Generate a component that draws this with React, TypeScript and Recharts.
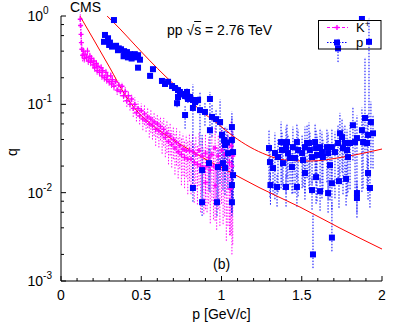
import React from "react";
import { ComposedChart, Scatter, Line, XAxis, YAxis, ErrorBar } from "recharts";

// [p, q, relative error down, relative error up (when different)]
type Pt = [number, number, number, number?];

const kaonPoints: Pt[] = [
  [0.12, 0.92, 0.2], [0.122, 0.78, 0.25], [0.125, 0.62, 0.25], [0.127, 0.5, 0.2],
  [0.13, 0.42, 0.2], [0.135, 0.36, 0.15], [0.14, 0.4, 0.1], [0.145, 0.33, 0.1],
  [0.15, 0.37, 0.1], [0.16, 0.34, 0.1], [0.165, 0.4, 0.1], [0.17, 0.31, 0.1],
  [0.18, 0.35, 0.1], [0.185, 0.3, 0.1], [0.19, 0.33, 0.1], [0.2, 0.28, 0.1],
  [0.205, 0.31, 0.1], [0.21, 0.26, 0.1], [0.22, 0.29, 0.1], [0.225, 0.24, 0.1],
  [0.23, 0.27, 0.1], [0.24, 0.23, 0.1], [0.25, 0.26, 0.1], [0.255, 0.21, 0.1],
  [0.26, 0.24, 0.1], [0.27, 0.2, 0.1], [0.28, 0.23, 0.1], [0.285, 0.19, 0.1],
  [0.29, 0.21, 0.1], [0.3, 0.18, 0.1], [0.31, 0.21, 0.1], [0.315, 0.17, 0.1],
  [0.32, 0.19, 0.1], [0.33, 0.16, 0.1], [0.34, 0.18, 0.12], [0.35, 0.145, 0.12],
  [0.36, 0.165, 0.12], [0.37, 0.14, 0.12], [0.38, 0.16, 0.12], [0.39, 0.125, 0.15],
  [0.4, 0.14, 0.15], [0.41, 0.11, 0.15], [0.42, 0.125, 0.15], [0.43, 0.1, 0.15],
  [0.44, 0.115, 0.15], [0.45, 0.09, 0.2], [0.46, 0.1, 0.2], [0.47, 0.08, 0.2],
  [0.48, 0.09, 0.2], [0.49, 0.074, 0.2], [0.5, 0.085, 0.2], [0.51, 0.068, 0.25],
  [0.52, 0.078, 0.25], [0.53, 0.065, 0.25], [0.54, 0.072, 0.25], [0.55, 0.06, 0.3],
  [0.56, 0.068, 0.3], [0.57, 0.057, 0.3], [0.58, 0.063, 0.3], [0.59, 0.052, 0.35],
  [0.6, 0.06, 0.3], [0.61, 0.05, 0.35], [0.62, 0.056, 0.3], [0.63, 0.046, 0.4],
  [0.64, 0.052, 0.35], [0.65, 0.042, 0.4], [0.66, 0.047, 0.4], [0.67, 0.038, 0.45],
  [0.68, 0.044, 0.4], [0.69, 0.035, 0.45], [0.7, 0.04, 0.4], [0.71, 0.032, 0.5],
  [0.72, 0.037, 0.45], [0.73, 0.029, 0.5], [0.74, 0.034, 0.45], [0.75, 0.027, 0.55],
  [0.76, 0.031, 0.5], [0.77, 0.025, 0.55], [0.78, 0.03, 0.5], [0.79, 0.024, 0.6],
  [0.8, 0.03, 0.55], [0.81, 0.024, 0.6], [0.82, 0.029, 0.6], [0.83, 0.022, 0.65],
  [0.84, 0.027, 0.6], [0.85, 0.021, 0.65], [0.86, 0.03, 0.6], [0.87, 0.02, 0.7],
  [0.88, 0.026, 0.6], [0.89, 0.019, 0.7], [0.9, 0.028, 0.65], [0.9, 0.013, 0.5],
  [0.91, 0.02, 0.7], [0.92, 0.025, 0.7], [0.93, 0.018, 0.75], [0.94, 0.027, 0.7],
  [0.95, 0.02, 0.75], [0.96, 0.032, 0.75], [0.96, 0.012, 0.6], [0.97, 0.019, 0.8],
  [0.98, 0.026, 0.75], [0.99, 0.021, 0.8], [1.0, 0.03, 0.75], [1.01, 0.022, 0.8],
  [1.02, 0.027, 0.8], [1.03, 0.019, 0.85], [1.04, 0.028, 0.85], [1.05, 0.022, 0.85],
  [1.055, 0.011, 0.7], [1.06, 0.034, 0.9], [1.065, 0.02, 0.9], [1.07, 0.026, 0.9],
];

const protonPoints: Pt[] = [
  [0.33, 0.9, 0.05], [0.274, 0.61, 0.05], [0.293, 0.56, 0.05], [0.268, 0.51, 0.05],
  [0.305, 0.5, 0.05], [0.3, 0.47, 0.05], [0.318, 0.45, 0.05], [0.343, 0.46, 0.05],
  [0.355, 0.41, 0.05], [0.36, 0.43, 0.05], [0.374, 0.42, 0.05], [0.393, 0.4, 0.05],
  [0.39, 0.35, 0.05], [0.4, 0.37, 0.05], [0.411, 0.39, 0.05], [0.43, 0.37, 0.05],
  [0.417, 0.34, 0.05], [0.44, 0.33, 0.05], [0.449, 0.36, 0.05], [0.46, 0.37, 0.05],
  [0.467, 0.34, 0.05], [0.48, 0.36, 0.05], [0.492, 0.32, 0.05], [0.48, 0.26, 0.05],
  [0.573, 0.25, 0.05], [0.555, 0.21, 0.05], [0.629, 0.184, 0.05], [0.648, 0.17, 0.05],
  [0.667, 0.18, 0.05], [0.692, 0.161, 0.05], [0.71, 0.153, 0.05], [0.729, 0.145, 0.1],
  [0.741, 0.138, 0.1], [0.754, 0.131, 0.1], [0.773, 0.124, 0.1], [0.785, 0.138, 0.1],
  [0.804, 0.121, 0.1], [0.822, 0.112, 0.1], [0.835, 0.106, 0.1], [0.773, 0.0757, 0.3],
  [0.723, 0.103, 0.1], [0.729, 0.121, 0.1], [0.791, 0.115, 0.1],
  [0.822, 0.091, 0.85], [0.854, 0.112, 0.1], [0.866, 0.086, 0.6], [0.897, 0.082, 0.3],
  [0.928, 0.115, 0.2], [0.941, 0.072, 0.4], [0.966, 0.068, 0.3], [0.991, 0.063, 0.8],
  [0.928, 0.051, 0.8], [1.003, 0.045, 0.5], [1.016, 0.0395, 0.4], [1.034, 0.037, 0.5],
  [1.065, 0.0553, 0.5], [1.022, 0.0346, 0.6], [1.072, 0.0288, 0.7],
  [1.065, 0.0395, 0.85], [1.04, 0.028, 0.6], [1.009, 0.0216, 0.5], [0.879, 0.018, 0.6, 1.5],
  [0.922, 0.0216, 0.5], [0.978, 0.0195, 0.6], [1.022, 0.019, 0.5], [1.072, 0.0158, 0.5],
  [1.065, 0.0122, 0.5], [0.822, 0.0113, 0.3, 2], [0.879, 0.0078, 0.3, 1.5], [0.972, 0.0078, 0.3, 1.5],
  [1.065, 0.0078, 0.3, 2],
  [1.296, 0.032, 0.6], [1.302, 0.0222, 0.6], [1.305, 0.0122, 0.4], [1.321, 0.019, 0.5],
  [1.333, 0.0281, 0.7], [1.346, 0.0116, 0.4], [1.352, 0.0253, 0.6], [1.371, 0.0374, 0.7],
  [1.377, 0.0304, 0.6], [1.383, 0.0216, 0.5], [1.402, 0.0328, 0.7], [1.402, 0.0116, 0.4],
  [1.408, 0.0374, 0.6], [1.414, 0.0281, 0.6], [1.427, 0.0247, 0.5], [1.439, 0.0195, 0.5],
  [1.445, 0.0328, 0.7], [1.458, 0.0247, 0.6], [1.47, 0.0374, 0.6], [1.47, 0.0116, 0.4],
  [1.477, 0.0304, 0.7], [1.502, 0.0281, 0.6], [1.508, 0.0234, 0.5], [1.52, 0.0328, 0.7],
  [1.52, 0.0167, 0.5], [1.533, 0.0365, 0.6], [1.545, 0.0365, 0.7], [1.551, 0.0304, 0.6],
  [1.564, 0.0253, 0.5], [1.564, 0.0107, 0.4], [1.57, 0.002, 0.3, 1.9], [1.583, 0.0374, 0.6],
  [1.589, 0.032, 0.6], [1.589, 0.015, 0.5], [1.595, 0.0267, 0.7], [1.614, 0.0328, 0.6],
  [1.614, 0.0104, 0.4], [1.626, 0.0288, 0.7], [1.632, 0.0253, 0.6], [1.657, 0.0328, 0.6],
  [1.664, 0.0281, 0.7], [1.664, 0.0099, 0.4], [1.676, 0.0205, 0.6], [1.688, 0.0328, 0.6],
  [1.688, 0.0128, 0.5], [1.688, 0.0031, 0.3, 1.5], [1.707, 0.0288, 0.7], [1.726, 0.0365, 0.6],
  [1.726, 0.43, 0.3], [1.732, 0.0135, 0.5], [1.738, 0.047, 0.7], [1.751, 0.0426, 0.6],
  [1.757, 0.032, 0.7], [1.769, 0.0365, 0.6], [1.776, 0.0143, 0.5], [1.782, 0.0304, 0.7],
  [1.788, 0.0253, 0.6], [1.801, 0.0365, 0.7], [1.819, 0.058, 0.6], [1.832, 0.0374, 0.7],
  [1.844, 0.0415, 0.8], [1.844, 0.0099, 0.4], [1.844, 0.0087, 0.4], [1.875, 0.051, 0.8],
  [1.875, 0.95, 0.05], [1.882, 0.0374, 0.7], [1.894, 0.07, 0.6, 3.8], [1.907, 0.0365, 0.7],
  [1.913, 0.045, 0.7], [1.913, 0.0167, 0.5], [1.919, 0.51, 0.86], [1.925, 0.0113, 0.4],
  [1.931, 0.063, 0.7], [1.944, 0.047, 0.6],
];

// fit curves
const kaonFit: [number, number][] = [
  [0.118, 1.0], [0.212, 0.508], [0.305, 0.258], [0.399, 0.128], [0.474, 0.084],
  [0.536, 0.0648], [0.617, 0.0499], [0.71, 0.0384], [0.804, 0.0303], [0.91, 0.0234],
  [1.053, 0.0171], [1.24, 0.0113], [1.489, 0.00687], [1.738, 0.00397], [2.0, 0.0023],
];
const protonFit: [number, number][] = [
  [0.287, 1.0], [0.368, 0.713], [0.461, 0.469], [0.555, 0.31], [0.648, 0.21],
  [0.754, 0.138], [0.866, 0.0861], [0.972, 0.0613], [1.072, 0.0437], [1.178, 0.0328],
  [1.283, 0.0267], [1.396, 0.0234], [1.551, 0.0228], [1.757, 0.0253], [2.0, 0.0312],
];

const xMajor = [0, 0.5, 1, 1.5, 2];
const xLabels = ["0", "0.5", "1", "1.5", "2"];
const xMinor = [0.1, 0.2, 0.3, 0.4, 0.6, 0.7, 0.8, 0.9, 1.1, 1.2, 1.3, 1.4, 1.6, 1.7, 1.8, 1.9];
const yMajor = [0.001, 0.01, 0.1, 1];
const yExp = ["-3", "-2", "-1", "0"];
const yMinor = [0.002, 0.004, 0.006, 0.008, 0.02, 0.04, 0.06, 0.08, 0.2, 0.4, 0.6, 0.8];

const FONT = '"Liberation Sans", Arial, Helvetica, sans-serif';
const MAGENTA = "#ff00ff";
const BLUE = "#0000ff";
const RED = "#ff0000";

const toRows = (pts: Pt[]) =>
  pts.map(([p, q, r, rUp]) => ({ p, q, err: [q * r, q * (rUp ?? r)] }));
const toLine = (pts: [number, number][]) => pts.map(([p, q]) => ({ p, q }));

const kaonRows = toRows(kaonPoints);
const protonRows = toRows(protonPoints);
const xTicks = [...xMajor, ...xMinor];
const yTicks = [...yMajor, ...yMinor];

function BottomTick({ x, y, payload }: any) {
  const i = xMajor.indexOf(payload.value);
  return (
    <g>
      <line x1={x} x2={x} y1={y} y2={y - (i >= 0 ? 5 : 3)} stroke="#000" />
      {i >= 0 && (
        <text x={x} y={y + 19} textAnchor="middle" fontFamily={FONT} fontSize={14} fill="#000">
          {xLabels[i]}
        </text>
      )}
    </g>
  );
}

function TopTick({ x, y, payload }: any) {
  const major = xMajor.includes(payload.value);
  return <line x1={x} x2={x} y1={y} y2={y + (major ? 5 : 3)} stroke="#000" />;
}

function LeftTick({ x, y, payload }: any) {
  const i = yMajor.indexOf(payload.value);
  return (
    <g>
      <line x1={x} x2={x + (i >= 0 ? 5 : 3)} y1={y} y2={y} stroke="#000" />
      {i >= 0 && (
        <text x={x - 33.5} y={y + 5} fontFamily={FONT} fontSize={14} fill="#000">
          10<tspan dy={-7} fontSize={10}>{yExp[i]}</tspan>
        </text>
      )}
    </g>
  );
}

function RightTick({ x, y, payload }: any) {
  const major = yMajor.includes(payload.value);
  return <line x1={x} x2={x - (major ? 5 : 3)} y1={y} y2={y} stroke="#000" />;
}

const plusShape = (props: any) => {
  const { cx, cy } = props;
  return (
    <path
      d={`M${cx - 2.5},${cy}H${cx + 2.5}M${cx},${cy - 2.5}V${cy + 2.5}`}
      stroke={MAGENTA}
      strokeWidth={1.4}
      fill="none"
    />
  );
};

const squareShape = (props: any) => (
  <rect x={props.cx - 3} y={props.cy - 3} width={6} height={6} fill={BLUE} />
);

export default function App() {
  return (
    <div style={{ position: "absolute", left: 0, top: 0, width: 407, height: 326, background: "#fff" }}>
      <ComposedChart width={407} height={326} margin={{ top: 16, right: 25, bottom: 0, left: 0 }}>
        <XAxis
          xAxisId="b"
          dataKey="p"
          type="number"
          domain={[0, 2]}
          allowDataOverflow
          ticks={xTicks}
          interval={0}
          tickSize={0}
          tickMargin={0}
          tickLine={false}
          tick={(p: any) => <BottomTick {...p} />}
          height={45}
          axisLine={{ stroke: "#000" }}
        />
        <XAxis
          xAxisId="t"
          orientation="top"
          type="number"
          domain={[0, 2]}
          allowDataOverflow
          ticks={xTicks}
          interval={0}
          tickSize={0}
          tickMargin={0}
          tickLine={false}
          tick={(p: any) => <TopTick {...p} />}
          height={0}
          axisLine={{ stroke: "#000" }}
        />
        <YAxis
          yAxisId="l"
          dataKey="q"
          type="number"
          scale="log"
          domain={[0.001, 1]}
          allowDataOverflow
          ticks={yTicks}
          interval={0}
          tickSize={0}
          tickMargin={0}
          tickLine={false}
          tick={(p: any) => <LeftTick {...p} />}
          width={61}
          axisLine={{ stroke: "#000" }}
        />
        <YAxis
          yAxisId="r"
          orientation="right"
          type="number"
          scale="log"
          domain={[0.001, 1]}
          allowDataOverflow
          ticks={yTicks}
          interval={0}
          tickSize={0}
          tickMargin={0}
          tickLine={false}
          tick={(p: any) => <RightTick {...p} />}
          width={0}
          axisLine={{ stroke: "#000" }}
        />
        <Scatter
          data={kaonRows}
          dataKey="q"
          xAxisId="b"
          yAxisId="l"
          shape={plusShape}
          isAnimationActive={false}
        >
          <ErrorBar dataKey="err" direction="y" width={0} stroke={MAGENTA} strokeWidth={1} strokeDasharray="1.5 1.5" />
        </Scatter>
        <Scatter
          data={protonRows}
          dataKey="q"
          xAxisId="b"
          yAxisId="l"
          shape={squareShape}
          isAnimationActive={false}
        >
          <ErrorBar dataKey="err" direction="y" width={0} stroke={BLUE} strokeWidth={1} strokeDasharray="1.5 1.5" />
        </Scatter>
        <Line
          data={toLine(kaonFit)}
          dataKey="q"
          xAxisId="b"
          yAxisId="l"
          type="monotone"
          stroke={RED}
          strokeWidth={1}
          dot={false}
          isAnimationActive={false}
        />
        <Line
          data={toLine(protonFit)}
          dataKey="q"
          xAxisId="b"
          yAxisId="l"
          type="monotone"
          stroke={RED}
          strokeWidth={1}
          dot={false}
          isAnimationActive={false}
        />
      </ComposedChart>

      <svg width={407} height={326} style={{ position: "absolute", left: 0, top: 0, pointerEvents: "none" }}>
        <g fontFamily={FONT} fontSize={14} fill="#000">
          <text x={70} y={12}>CMS</text>
          <text x={213} y={269}>(b)</text>
          <text x={221.5} y={319} textAnchor="middle">p [GeV/c]</text>
          <text transform="translate(17,152) rotate(-90)" textAnchor="middle">q</text>
        </g>
        <g fontFamily={FONT} fontSize={13} fill="#000">
          <text x={356} y={32}>
            K<tspan dy={-5} fontSize={9}>+</tspan>
          </text>
          <text x={356} y={47}>p</text>
        </g>
        <rect x={318.5} y={20.5} width={62.5} height={28.5} fill="none" stroke="#000" />
        <line x1={327} x2={348} y1={27.5} y2={27.5} stroke={MAGENTA} strokeDasharray="3 2" />
        <path d="M334.5,27.5H339.5M337,25V30" stroke={MAGENTA} strokeWidth={1.4} />
        <line x1={327} x2={348} y1={42.5} y2={42.5} stroke={BLUE} strokeDasharray="1.5 1.5" />
        <rect x={334} y={39.5} width={6} height={6} fill={BLUE} />
      </svg>
      <div
        style={{
          position: "absolute",
          left: 167,
          top: 23,
          fontFamily: FONT,
          fontSize: 14,
          lineHeight: "14px",
          whiteSpace: "nowrap",
          color: "#000",
        }}
      >
        pp √<span style={{ textDecoration: "overline" }}>s</span> = 2.76 TeV
      </div>
    </div>
  );
}
